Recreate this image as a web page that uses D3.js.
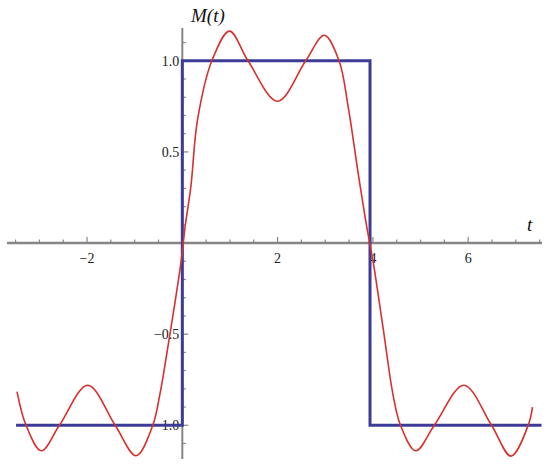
<!DOCTYPE html>
<meta charset="utf-8">
<script src="https://cdn.jsdelivr.net/npm/d3@7"></script>
<style>
body { margin: 0; background: #fff; }
svg { display: block; }
.tick-label {
  font: 14px "Liberation Serif", serif;
  fill: #222;
}
.axis-title {
  font: italic 19px "Liberation Serif", serif;
  fill: #111;
}
</style>
<body>
<script>

// square wave corners (t, M)
var squareT = [-3.49, 0, 0, 3.94, 3.94, 7.54];
var squareM = [-1, -1, 1, 1, -1, -1];

// red approximation
var curveT = [-3.47, -3.28, -2.96, -2.58, -1.985, -1.41, -0.97, -0.62, -0.48, -0.26, -0.03,
  0.06, 0.18, 0.32, 0.62, 0.99, 1.38, 2.0, 2.59, 2.98, 3.29, 3.48, 3.69, 3.87,
  4.01, 4.22, 4.43, 4.58, 4.9, 5.29, 5.91, 6.49, 6.9, 7.26, 7.35];
var curveM = [-0.815, -1.0, -1.14, -1.0, -0.78, -1.0, -1.167, -1.0, -0.843, -0.5, -0.11,
  0.091, 0.311, 0.677, 1.0, 1.163, 1.0, 0.778, 1.0, 1.14, 1.0, 0.75, 0.385, 0.091,
  -0.11, -0.476, -0.843, -1.0, -1.14, -1.0, -0.78, -1.0, -1.169, -1.0, -0.90];

var xTickLabels = [-2, 2, 4, 6];
var yTickLabels = [-1.0, -0.5, 0.5, 1.0];

var width = 550,
    height = 468;

var x = d3.scaleLinear().domain([-3.68, 7.55]).range([7, 542]);
var y = d3.scaleLinear().domain([-1.185, 1.18]).range([459, 28]);

var svg = d3.select("body").append("svg")
    .attr("width", width)
    .attr("height", height);

var axisColor = "#858585";

// x axis line + ticks
svg.append("line")
    .attr("x1", x(-3.68)).attr("x2", x(7.55))
    .attr("y1", y(0)).attr("y2", y(0))
    .style("stroke", axisColor)
    .style("stroke-width", 2.5);

var xMinor = d3.range(-3.5, 7.51, 0.5);
svg.append("g").selectAll("line")
    .data(xMinor)
  .enter().append("line")
    .attr("x1", function(d) { return x(d); })
    .attr("x2", function(d) { return x(d); })
    .attr("y1", y(0))
    .attr("y2", function(d) { return y(0) - (Math.abs(d % 2) < 1e-6 ? 6 : 3.5); })
    .style("stroke", axisColor)
    .style("stroke-width", 1.2);

// y axis line + ticks
svg.append("line")
    .attr("x1", x(0)).attr("x2", x(0))
    .attr("y1", y(1.18)).attr("y2", y(-1.185))
    .style("stroke", axisColor)
    .style("stroke-width", 2);

var yMinor = d3.range(-11, 12).map(function(i) { return i / 10; });
svg.append("g").selectAll("line")
    .data(yMinor)
  .enter().append("line")
    .attr("x1", x(0))
    .attr("x2", function(d) { return x(0) + (Math.abs(Math.round(d * 10) % 5) == 0 ? 6 : 3.5); })
    .attr("y1", function(d) { return y(d); })
    .attr("y2", function(d) { return y(d); })
    .style("stroke", axisColor)
    .style("stroke-width", 1.2);

// tick labels
svg.append("g").selectAll("text")
    .data(xTickLabels)
  .enter().append("text")
    .attr("class", "tick-label")
    .attr("x", function(d) { return x(d); })
    .attr("y", y(0) + 20)
    .attr("text-anchor", "middle")
    .text(function(d) { return d < 0 ? "\u2212" + Math.abs(d) : d; });

svg.append("g").selectAll("text")
    .data(yTickLabels)
  .enter().append("text")
    .attr("class", "tick-label")
    .attr("x", x(0) - 3)
    .attr("y", function(d) { return y(d) + 5; })
    .attr("text-anchor", "end")
    .text(function(d) { return (d < 0 ? "\u2212" : "") + Math.abs(d).toFixed(1); });

// axis titles
svg.append("text")
    .attr("class", "axis-title")
    .attr("x", 191)
    .attr("y", 22)
    .text("M(t)");

svg.append("text")
    .attr("class", "axis-title")
    .attr("x", 527)
    .attr("y", 231)
    .text("t");

// square wave
var sq = squareT.map(function(t, i) { return [t, squareM[i]]; });
svg.append("path")
    .datum(sq)
    .attr("d", d3.line()
        .x(function(d) { return x(d[0]); })
        .y(function(d) { return y(d[1]); }))
    .style("fill", "none")
    .style("stroke", "#3c3c98")
    .style("stroke-width", 3);

// fourier-ish curve
var fc = curveT.map(function(t, i) { return [t, curveM[i]]; });
svg.append("path")
    .datum(fc)
    .attr("d", d3.line()
        .curve(d3.curveCatmullRom.alpha(0.5))
        .x(function(d) { return x(d[0]); })
        .y(function(d) { return y(d[1]); }))
    .style("fill", "none")
    .style("stroke", "#d8302e")
    .style("stroke-width", 1.6);

</script>
</body>
</html>
